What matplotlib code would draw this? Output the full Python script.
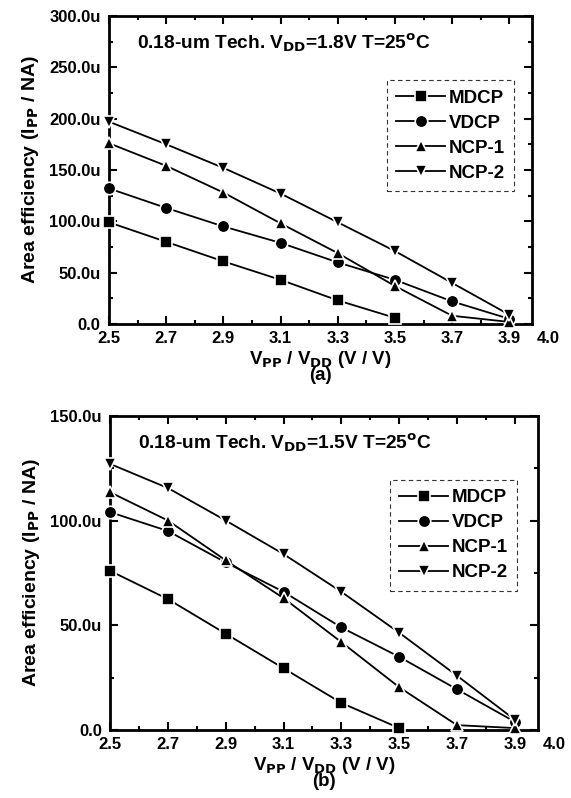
import matplotlib
matplotlib.use("Agg")
import matplotlib.pyplot as plt
from matplotlib.ticker import MultipleLocator, FixedLocator, FuncFormatter

plt.rcParams["font.family"] = ["Liberation Sans", "DejaVu Sans"]
plt.rcParams["font.weight"] = "bold"
plt.rcParams["mathtext.default"] = "bf"

series = ["MDCP", "VDCP", "NCP-1", "NCP-2"]
markers = ["s", "o", "^", "v"]
x_ticks = [2.5, 2.7, 2.9, 3.1, 3.3, 3.5, 3.7, 3.9]

# panel (a): VDD = 1.8 V, values in uA-per-area units (u)
x_a = [2.5, 2.7, 2.9, 3.1, 3.3, 3.5, 3.7, 3.9]
mdcp_a = [99, 80, 61, 43, 23, 6]
vdcp_a = [132, 113, 95, 79, 60, 43, 22, 5]
ncp1_a = [176, 154, 128, 98, 69, 37, 8, 2]
ncp2_a = [197, 175, 152, 127, 99, 71, 40, 9]

# panel (b): VDD = 1.5 V
x_b = [2.5, 2.7, 2.9, 3.1, 3.3, 3.5, 3.7, 3.9]
mdcp_b = [76, 62.5, 46, 29.5, 13, 1]
vdcp_b = [104, 95, 80, 66, 49, 35, 19.5, 4]
ncp1_b = [113.5, 100, 81, 63, 42, 20.5, 2.4, 1]
ncp2_b = [127, 115.5, 100, 84, 66, 46.5, 26, 5]


def u_fmt(v, pos):
    return "0.0" if v == 0 else f"{v:.1f}u"


def draw_panel(ax, x, data, ymax, ymajor, title, tag, leg_pos):
    for name, mk, ys in zip(series, markers, data):
        ax.plot(x[:len(ys)], ys, color="black", lw=1.3, marker=mk,
                markersize=9, markerfacecolor="black",
                markeredgecolor="white", markeredgewidth=1.2, label=name,
                clip_on=False, zorder=3)
    ax.set_xlim(2.5, 3.98)
    ax.set_ylim(0, ymax)
    ax.xaxis.set_major_locator(FixedLocator(x_ticks))
    ax.xaxis.set_minor_locator(MultipleLocator(0.1))
    ax.yaxis.set_major_locator(MultipleLocator(ymajor))
    ax.yaxis.set_minor_locator(MultipleLocator(ymajor / 2))
    ax.xaxis.set_major_formatter(FuncFormatter(lambda v, p: f"{v:.1f}"))
    ax.yaxis.set_major_formatter(FuncFormatter(u_fmt))
    ax.tick_params(which="both", direction="in", top=True, right=True,
                   labelsize=12, width=1.5)
    ax.tick_params(which="major", length=6)
    ax.tick_params(which="minor", length=3)
    ax.tick_params(axis="y", pad=6)
    ax.tick_params(axis="x", pad=5)
    for lab in ax.get_xticklabels() + ax.get_yticklabels():
        lab.set_fontweight("bold")
    for sp in ax.spines.values():
        sp.set_linewidth(2)
    ax.annotate("4.0", xy=(4.035, 0), xycoords=ax.get_xaxis_transform(),
                xytext=(0, -5), textcoords="offset points",
                ha="center", va="top", fontsize=12, fontweight="bold",
                annotation_clip=False)
    ax.text(0.065, 0.913, title, transform=ax.transAxes, fontsize=13.8,
            fontweight="bold", ha="left", va="center")
    ax.set_ylabel(r"Area efficiency (I$_{PP}$ / NA)", fontsize=14,
                  fontweight="bold", labelpad=6)
    ax.set_xlabel("V$_{PP}$ / V$_{DD}$ (V / V)\n" + tag,
                  fontsize=13.5, fontweight="bold", labelpad=2, linespacing=0.8)
    leg = ax.legend(loc="upper left", bbox_to_anchor=leg_pos, frameon=True,
                    fancybox=False, edgecolor="black", numpoints=1,
                    handlelength=2.6, handletextpad=0.2, borderpad=0.5,
                    borderaxespad=0, labelspacing=0.42,
                    prop={"weight": "bold", "size": 13.5})
    leg.get_frame().set_linestyle((0, (4, 3)))
    leg.get_frame().set_linewidth(0.8)


fig = plt.figure(figsize=(5.71, 7.98), dpi=100)
ax1 = fig.add_axes([0.191, 0.594, 0.741, 0.386])
ax2 = fig.add_axes([0.193, 0.085, 0.749, 0.394])

draw_panel(ax1, x_a, [mdcp_a, vdcp_a, ncp1_a, ncp2_a], 300, 50,
           r"0.18-um Tech. V$_{DD}$=1.8V T=25$^{o}$C", "(a)",
           (0.657, 0.792))
draw_panel(ax2, x_b, [mdcp_b, vdcp_b, ncp1_b, ncp2_b], 150, 50,
           r"0.18-um Tech. V$_{DD}$=1.5V T=25$^{o}$C", "(b)",
           (0.654, 0.796))

fig.savefig("out.png", dpi=100)
